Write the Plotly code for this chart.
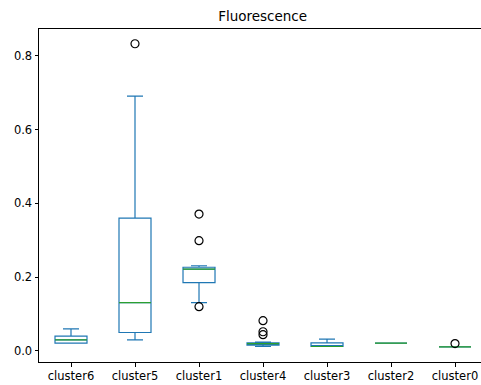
import plotly.graph_objects as go

categories = ["cluster6", "cluster5", "cluster1", "cluster4", "cluster3", "cluster2", "cluster0"]
q1 = [0.021, 0.050, 0.185, 0.016, 0.012, 0.021, 0.011]
median = [0.030, 0.131, 0.222, 0.020, 0.012, 0.021, 0.011]
q3 = [0.040, 0.360, 0.227, 0.022, 0.022, 0.021, 0.011]
lower = [0.021, 0.030, 0.131, 0.012, 0.012, 0.021, 0.011]
upper = [0.060, 0.691, 0.231, 0.024, 0.032, 0.021, 0.011]
outliers = [[], [0.833], [0.371, 0.299, 0.120], [0.082, 0.052, 0.044], [], [], [0.020]]
y_ticks = [0.0, 0.2, 0.4, 0.6, 0.8]

C0 = "#1f77b4"
C2 = "#2ca02c"
BW = 0.5

fig = go.Figure()
pos = list(range(len(categories)))
fig.add_trace(go.Box(
    x=pos, q1=q1, median=median, q3=q3, lowerfence=lower, upperfence=upper,
    line=dict(color=C0, width=1.2), fillcolor="rgba(0,0,0,0)",
    width=BW, whiskerwidth=0.5, boxpoints=False, showlegend=False, hoverinfo="skip",
))
for i, m in enumerate(median):
    fig.add_trace(go.Scatter(
        x=[i - BW / 2, i + BW / 2], y=[m, m], mode="lines",
        line=dict(color=C2, width=1.2), showlegend=False, hoverinfo="skip",
    ))
ox, oy = [], []
for i, vals in enumerate(outliers):
    for v in vals:
        ox.append(i)
        oy.append(v)
fig.add_trace(go.Scatter(
    x=ox, y=oy, mode="markers",
    marker=dict(symbol="circle-open", size=8, color="black", line=dict(width=1.2)),
    showlegend=False, hoverinfo="skip",
))

fig.update_layout(
    width=481, height=385,
    margin=dict(l=39, r=0, t=29, b=23),
    paper_bgcolor="white", plot_bgcolor="white",
    font=dict(family="DejaVu Sans", size=11.5, color="black"),
    title=dict(text="Fluorescence", x=0.546, xanchor="center", y=0.958, yanchor="middle",
               font=dict(size=13.5, color="black")),
    xaxis=dict(range=[-0.5, 6.406], tickvals=pos, ticktext=categories,
               showgrid=False, zeroline=False, showline=True, linecolor="black", linewidth=1,
               mirror=True, ticks="outside", ticklen=3.5, tickcolor="black"),
    yaxis=dict(range=[-0.030, 0.873], tickvals=y_ticks, tickformat=".1f",
               showgrid=False, zeroline=False, showline=True, linecolor="black", linewidth=1,
               mirror=True, ticks="outside", ticklen=3.5, tickcolor="black"),
)
fig.write_html("out.html", config={"displayModeBar": False},
               post_script="document.body.style.margin='0';document.body.style.overflow='hidden';")
